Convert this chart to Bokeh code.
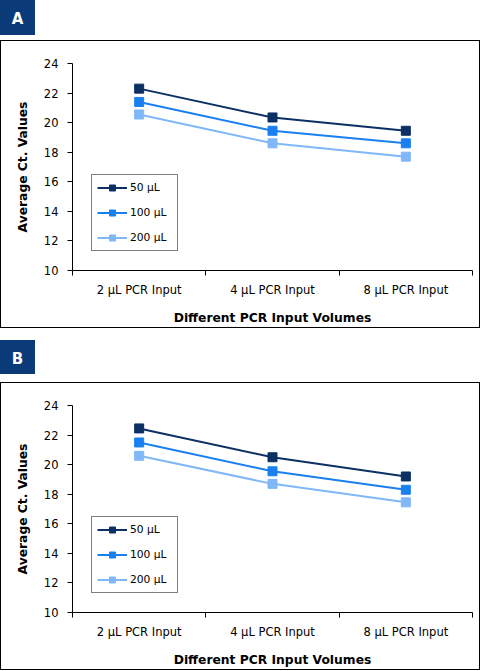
from bokeh.plotting import figure
from bokeh.models import Range1d, FixedTicker, Legend, LegendItem, Div, Spacer
from bokeh.layouts import column
from bokeh.embed import file_html
from bokeh.resources import INLINE

categories = ["2 µL PCR Input", "4 µL PCR Input", "8 µL PCR Input"]
series_names = ["50 µL", "100 µL", "200 µL"]
panel_letters = ["A", "B"]
panel_a_50 = [22.3, 20.35, 19.45]
panel_a_100 = [21.4, 19.45, 18.6]
panel_a_200 = [20.55, 18.6, 17.7]
panel_b_50 = [22.45, 20.5, 19.2]
panel_b_100 = [21.5, 19.55, 18.3]
panel_b_200 = [20.6, 18.7, 17.45]
y_ticks = [10, 12, 14, 16, 18, 20, 22, 24]
x_title = "Different PCR Input Volumes"
y_title = "Average Ct. Values"
colors = ["#0C3064", "#1A80F0", "#80B8F7"]
navy = "#0B3A78"
FONT = "DejaVu Sans"

FW, FH = 480, 288  # figure size, including the 1.5px panel border


def letter_box(letter, h):
    return Div(text=letter, width=35, height=h, margin=0,
               styles={"background-color": navy, "color": "white",
                       "font-family": FONT, "font-weight": "bold",
                       "font-size": "15px", "line-height": f"{h + 4}px",
                       "text-align": "center", "overflow": "hidden"})


def make_panel(series):
    x = list(range(1, len(categories) + 1))
    p = figure(width=FW, height=FH, output_backend="svg", toolbar_location=None,
               x_range=Range1d(0.5, len(categories) + 0.5),
               y_range=Range1d(y_ticks[0], y_ticks[-1]),
               min_border_left=71, min_border_right=9,
               min_border_top=22, min_border_bottom=59,
               styles={"border": "1.5px solid black"})
    p.xgrid.visible = False
    p.ygrid.visible = False
    p.outline_line_color = None
    p.background_fill_color = "white"
    p.border_fill_color = "white"

    # x axis: labels at category centres, ticks at category boundaries
    xa = p.xaxis[0]
    xa.ticker = FixedTicker(ticks=x, minor_ticks=[v - 0.5 for v in x] + [x[-1] + 0.5])
    xa.major_label_overrides = {xi: c for xi, c in zip(x, categories)}
    xa.major_tick_out = 0
    xa.major_tick_in = 0
    xa.minor_tick_out = 5
    xa.minor_tick_in = 0
    xa.minor_tick_line_color = "black"
    xa.axis_line_color = "black"
    xa.major_label_standoff = 7
    xa.major_label_text_font = FONT
    xa.major_label_text_font_size = "11.5px"
    xa.major_label_text_color = "black"
    xa.axis_label = x_title
    xa.axis_label_text_font = FONT
    xa.axis_label_text_font_style = "bold"
    xa.axis_label_text_font_size = "12.3px"
    xa.axis_label_text_color = "black"
    xa.axis_label_standoff = 11

    # y axis
    ya = p.yaxis[0]
    ya.ticker = FixedTicker(ticks=y_ticks)
    ya.major_tick_out = 5
    ya.major_tick_in = 0
    ya.minor_tick_line_color = None
    ya.axis_line_color = "black"
    ya.major_tick_line_color = "black"
    ya.major_label_standoff = 9
    ya.major_label_text_font = FONT
    ya.major_label_text_font_size = "11.5px"
    ya.major_label_text_color = "black"
    ya.axis_label = y_title
    ya.axis_label_text_font = FONT
    ya.axis_label_text_font_style = "bold"
    ya.axis_label_text_font_size = "12.3px"
    ya.axis_label_text_color = "black"
    ya.axis_label_standoff = 11

    items = []
    for name, ys, c in zip(series_names, series, colors):
        r1 = p.line(x, ys, line_color=c, line_width=2)
        r2 = p.scatter(x, ys, marker="square", size=9, fill_color=c, line_color=c)
        items.append(LegendItem(label=name, renderers=[r1, r2]))
    legend = Legend(items=items, location=(19, 19),
                    border_line_color="black", border_line_width=1.2,
                    background_fill_color="white", background_fill_alpha=1,
                    label_text_font=FONT, label_text_font_size="10.7px",
                    label_text_color="black",
                    glyph_width=30, glyph_height=15, label_height=15,
                    label_width=42, spacing=10, padding=5, margin=0,
                    label_standoff=3)
    p.add_layout(legend)
    return p


pa = make_panel([panel_a_50, panel_a_100, panel_a_200])
pb = make_panel([panel_b_50, panel_b_100, panel_b_200])
layout = column(letter_box(panel_letters[0], 35), Spacer(height=5), pa,
                Spacer(height=12), letter_box(panel_letters[1], 34), Spacer(height=8), pb,
                spacing=0)

open("out.html", "w").write(file_html(layout, INLINE))
